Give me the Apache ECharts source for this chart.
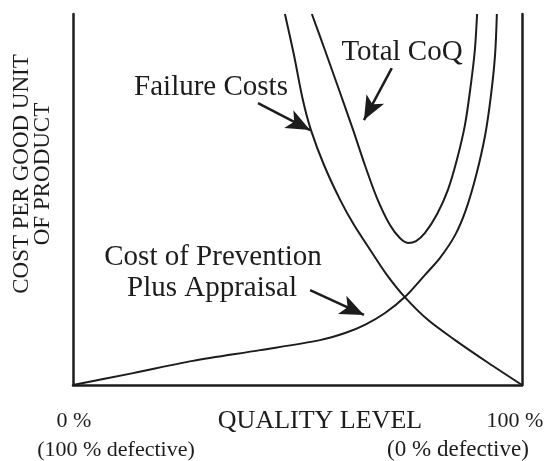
<!DOCTYPE html>
<html>
<head>
<meta charset="utf-8">
<script src="https://cdn.jsdelivr.net/npm/echarts@6/dist/echarts.min.js"></script>
<style>html,body{margin:0;padding:0;background:#fff;}#c{width:547px;height:461px;}</style>
</head>
<body>
<div id="c"></div>
<script>
// Quality level (%) and cost (relative units, 0-100 visible)
const failureQ = [47.2, 49.2, 51.2, 53.0, 55.9, 59.5, 62.6, 66.2, 69.9, 73.9, 79.1, 85.1, 92.2, 100];
const failureCost = [100, 89.0, 76.8, 68.7, 59.3, 49.9, 43.1, 36.4, 29.7, 23.7, 17.5, 12.1, 6.2, 0];
const totalQ = [53.2, 56.1, 59.5, 62.4, 65.0, 67.7, 70.6, 72.8, 74.6, 76.4, 78.4, 81.1, 83.5, 85.5, 87.3, 88.6, 89.5, 90.0];
const totalCost = [100, 90.3, 78.7, 68.7, 59.3, 50.4, 43.1, 39.6, 38.3, 38.8, 41.0, 46.1, 52.6, 60.7, 70.1, 80.9, 90.3, 100];
const preventionQ = [0, 13.4, 26.7, 41.7, 55.0, 60.6, 65.0, 69.5, 73.9, 78.4, 81.7, 85.1, 87.5, 89.8, 91.8, 93.1, 94.0, 94.4];
const preventionCost = [0, 3.2, 6.5, 9.4, 12.1, 14.0, 16.2, 19.4, 23.7, 29.7, 34.2, 40.4, 47.2, 56.6, 67.4, 78.2, 89.0, 100];
// annotation arrows [fromQ, fromCost, toQ, toCost]
const arrowFailure = [41.2, 76.0, 52.8, 68.7];
const arrowTotal = [71.0, 85.4, 64.8, 71.4];
const arrowPrevention = [52.8, 25.6, 64.8, 18.9];

const zip = (a, b) => a.map((v, i) => [v, b[i]]);
const ink = '#1c1c1c';
const font = '"Liberation Serif", "DejaVu Serif", serif';

const chart = echarts.init(document.getElementById('c'));
const lineStyle = { color: ink, width: 2 };
const arrow = (a) => [{ coord: [a[0], a[1]] }, { coord: [a[2], a[3]] }];
const ml = (a) => ({ silent: true, symbol: ['none', 'arrow'], symbolSize: [15, 24], label: { show: false },
  lineStyle: { color: ink, width: 2.5, type: 'solid' }, data: [arrow(a)] });
const axisLn = { show: true, onZero: false, lineStyle: { color: ink, width: 2.5 } };

chart.setOption({
  animation: false,
  grid: { left: 73, right: 25, top: 14, bottom: 76 },
  xAxis: {
    type: 'value', min: 0, max: 100, axisLine: axisLn,
    axisTick: { show: false }, axisLabel: { show: false }, splitLine: { show: false }
  },
  yAxis: [
    { type: 'value', min: 0, max: 100, position: 'left', axisLine: axisLn,
      axisTick: { show: false }, axisLabel: { show: false }, splitLine: { show: false } },
    { type: 'value', min: 0, max: 100, position: 'right', axisLine: axisLn,
      axisTick: { show: false }, axisLabel: { show: false }, splitLine: { show: false } }
  ],
  series: [
    { type: 'line', name: 'Failure Costs', data: zip(failureQ, failureCost), smooth: 0.3,
      showSymbol: false, lineStyle: lineStyle, clip: true, markLine: ml(arrowFailure) },
    { type: 'line', name: 'Total CoQ', data: zip(totalQ, totalCost), smooth: 0.3,
      showSymbol: false, lineStyle: lineStyle, clip: true, markLine: ml(arrowTotal) },
    { type: 'line', name: 'Prevention', data: zip(preventionQ, preventionCost), smooth: 0.3,
      showSymbol: false, lineStyle: lineStyle, clip: true, markLine: ml(arrowPrevention) }
  ],
  graphic: [
    { type: 'text', x: 402, y: 52, style: { text: 'Total CoQ', font: '29px ' + font, fill: ink, textAlign: 'center', textVerticalAlign: 'middle' } },
    { type: 'text', x: 211, y: 87, style: { text: 'Failure Costs', font: '29px ' + font, fill: ink, textAlign: 'center', textVerticalAlign: 'middle' } },
    { type: 'text', x: 213, y: 257, style: { text: 'Cost of Prevention', font: '29px ' + font, fill: ink, textAlign: 'center', textVerticalAlign: 'middle' } },
    { type: 'text', x: 212, y: 288, style: { text: 'Plus Appraisal', font: '29px ' + font, fill: ink, textAlign: 'center', textVerticalAlign: 'middle' } },
    { type: 'text', x: 32, y: 174, rotation: Math.PI / 2,
      style: { text: 'COST PER GOOD UNIT\nOF PRODUCT', font: '23px ' + font, lineHeight: 21, fill: ink, textAlign: 'center', textVerticalAlign: 'middle' } },
    { type: 'text', x: 74, y: 421, style: { text: '0 %', font: '22px ' + font, fill: ink, textAlign: 'center', textVerticalAlign: 'middle' } },
    { type: 'text', x: 116, y: 450, style: { text: '(100 % defective)', font: '22px ' + font, fill: ink, textAlign: 'center', textVerticalAlign: 'middle' } },
    { type: 'text', x: 320, y: 421, style: { text: 'QUALITY LEVEL', font: '26px ' + font, fill: ink, textAlign: 'center', textVerticalAlign: 'middle' } },
    { type: 'text', x: 515, y: 421, style: { text: '100 %', font: '22px ' + font, fill: ink, textAlign: 'center', textVerticalAlign: 'middle' } },
    { type: 'text', x: 458, y: 450, style: { text: '(0 % defective)', font: '23px ' + font, fill: ink, textAlign: 'center', textVerticalAlign: 'middle' } }
  ]
});
</script>
</body>
</html>
